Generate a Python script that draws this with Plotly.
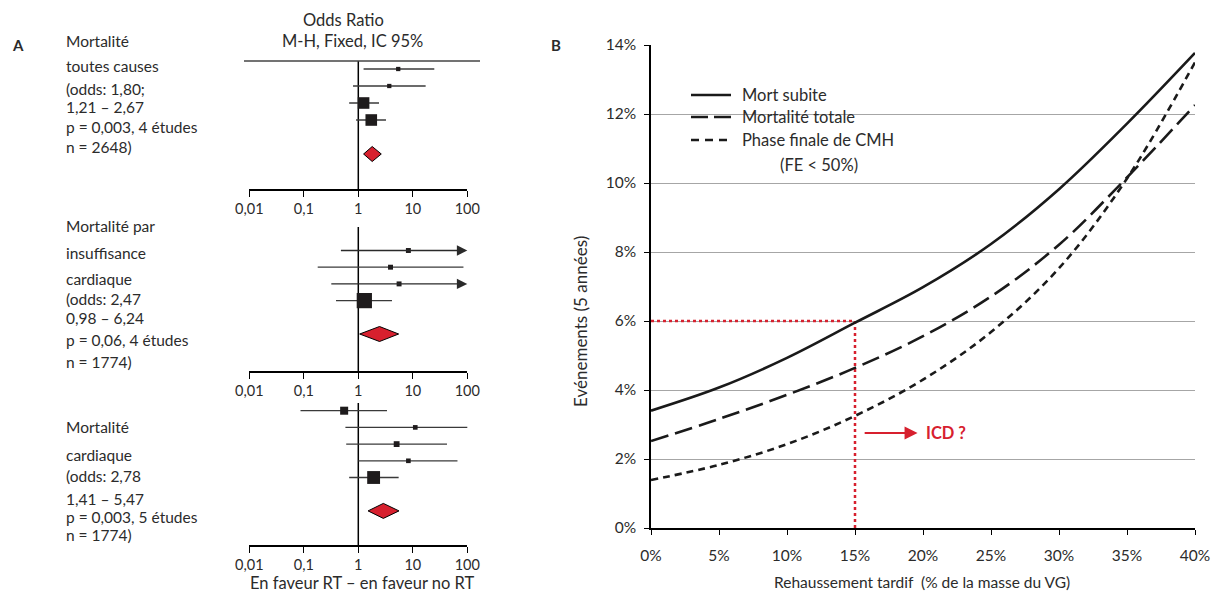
import numpy as np
import plotly.graph_objects as go

W, H = 1215, 594
FONT = "Lato, 'Open Sans', sans-serif"
TXT = "#2b2b2b"
RED = "#d7202e"
INK = "#1e1b1c"
ARROW_BEYOND = 150   # CI upper bounds above this are drawn as arrows to the axis end


def px_x(p):
    return p / W


def px_y(p):
    return 1 - p / H


# ------------------------- Panel A : forest plots -------------------------
or_ticks = [0.01, 0.1, 1, 10, 100]
or_tick_text = ["0,01", "0,1", "1", "10", "100"]

# panel 1 : all-cause mortality
p1_est = [5.4, 3.7, 1.25, 1.73]
p1_lo = [1.25, 0.80, 0.68, 0.91]
p1_hi = [24.8, 17.2, 2.40, 3.22]
p1_weight = [6, 6, 44, 44]
p1_pool = [1.80, 1.25, 2.64]
p1_text = ["Mortalité", "toutes causes", "(odds: 1,80;", "1,21 – 2,67",
           "p = 0,003, 4 études", "n = 2648)"]

# panel 2 : heart-failure mortality
p2_est = [8.3, 3.9, 5.6, 1.29]
p2_lo = [0.45, 0.18, 0.30, 0.39]
p2_hi = [250, 85, 250, 4.15]
p2_weight = [8, 8, 8, 76]
p2_pool = [2.45, 1.06, 5.5]
p2_text = ["Mortalité par", "insuffisance", "cardiaque", "(odds: 2,47",
           "0,98 – 6,24", "p = 0,06, 4 études", "n = 1774)"]

# panel 3 : cardiac mortality
p3_est = [0.55, 11.1, 5.05, 8.3, 1.91]
p3_lo = [0.087, 0.58, 0.60, 1.0, 0.68]
p3_hi = [3.36, 110, 42.4, 66, 5.5]
p3_weight = [21, 7, 11, 7, 54]
p3_pool = [2.88, 1.51, 5.58]
p3_text = ["Mortalité", "cardiaque", "(odds: 2,78", "1,41 – 5,47",
           "p = 0,003, 5 études", "n = 1774)"]

# ------------------------- Panel B : curves -------------------------
lge_pct = [0, 5, 10, 15, 20, 25, 30, 35, 40]
mort_subite = [3.40, 4.07, 4.93, 5.95, 6.98, 8.23, 9.82, 11.72, 13.77]
mort_totale = [2.52, 3.16, 3.86, 4.64, 5.56, 6.71, 8.21, 10.16, 12.26]
phase_finale = [1.39, 1.83, 2.43, 3.25, 4.30, 5.68, 7.53, 10.13, 13.5]
series_names = ["Mort subite", "Mortalité totale", "Phase finale de CMH"]
series_note = "(FE < 50%)"
x_ticks = [0, 5, 10, 15, 20, 25, 30, 35, 40]
y_ticks = [0, 2, 4, 6, 8, 10, 12, 14]
icd_lge = 15
icd_event = 6

fig = go.Figure()
annotations = []
shapes = []

panels = [
    dict(est=p1_est, lo=p1_lo, hi=p1_hi, w=p1_weight, pool=p1_pool, text=p1_text,
         text_y=[41.5, 66.5, 88.5, 107, 126.5, 146.5], row1=69, sp=17, top=61, bottom=189),
    dict(est=p2_est, lo=p2_lo, hi=p2_hi, w=p2_weight, pool=p2_pool, text=p2_text,
         text_y=[225.5, 252.5, 278.5, 298.5, 318, 340, 361.5], row1=250.5, sp=16.7, top=227, bottom=371),
    dict(est=p3_est, lo=p3_lo, hi=p3_hi, w=p3_weight, pool=p3_pool, text=p3_text,
         text_y=[427, 455, 475.5, 499, 516.5, 535], row1=410.7, sp=16.7, top=403, bottom=545),
]

for k, p in enumerate(panels, start=1):
    xa = "x" if k == 1 else f"x{k}"
    ya = "y" if k == 1 else f"y{k}"
    n = len(p["est"])
    rows = list(range(1, n + 1))
    dia = n + 2
    top_val = 1 + (p["top"] - p["row1"]) / p["sp"]
    bot_val = 1 + (p["bottom"] - p["row1"]) / p["sp"]

    # line of no effect
    fig.add_trace(go.Scatter(x=[1, 1], y=[top_val, bot_val], mode="lines",
                             line=dict(color="black", width=1.5), xaxis=xa, yaxis=ya,
                             showlegend=False, hoverinfo="skip"))
    # confidence intervals
    cx, cy = [], []
    for r, lo, hi in zip(rows, p["lo"], p["hi"]):
        if hi > ARROW_BEYOND:
            annotations.append(dict(x=2, y=r, ax=np.log10(lo), ay=r, xref=xa, yref=ya,
                                    axref=xa, ayref=ya, text="", showarrow=True,
                                    arrowhead=2, arrowsize=1.6, arrowwidth=1.3,
                                    arrowcolor="#2a2a2a", standoff=0))
        else:
            cx += [lo, hi, None]
            cy += [r, r, None]
    fig.add_trace(go.Scatter(x=cx, y=cy, mode="lines", line=dict(color="#3a3a3a", width=1.3),
                             xaxis=xa, yaxis=ya, showlegend=False, hoverinfo="skip"))
    # study squares
    fig.add_trace(go.Scatter(x=p["est"], y=rows, mode="markers",
                             marker=dict(symbol="square", color=INK, opacity=1,
                                         size=[1.75 * np.sqrt(w) for w in p["w"]],
                                         line=dict(width=0)),
                             cliponaxis=False, xaxis=xa, yaxis=ya, showlegend=False))
    # pooled diamond
    est, lo, hi = p["pool"]
    h = 7.5 / p["sp"]
    fig.add_trace(go.Scatter(x=[lo, est, hi, est, lo], y=[dia, dia - h, dia, dia + h, dia],
                             mode="lines", fill="toself", fillcolor=RED,
                             line=dict(color="black", width=1), xaxis=xa, yaxis=ya,
                             showlegend=False, hoverinfo="skip"))

    fig.update_layout(**{
        ("xaxis" if k == 1 else f"xaxis{k}"): dict(
            type="log", range=[-2, 2], domain=[px_x(249.3), px_x(467.3)], anchor=ya,
            tickvals=or_ticks, ticktext=or_tick_text, ticks="outside", ticklen=6,
            tickwidth=1.3, tickcolor="black", showline=True, linecolor="black", linewidth=1.5,
            showgrid=False, zeroline=False, automargin=False,
            tickfont=dict(size=14.5, color=TXT, family=FONT)),
        ("yaxis" if k == 1 else f"yaxis{k}"): dict(
            domain=[px_y(p["bottom"]), px_y(p["top"])], range=[bot_val, top_val],
            visible=False, anchor=xa, automargin=False),
    })

    for t, yy in zip(p["text"], p["text_y"]):
        annotations.append(dict(x=px_x(64), y=px_y(yy), xref="paper", yref="paper",
                                text=t, showarrow=False, xanchor="left", yanchor="middle",
                                font=dict(size=15.5, color=TXT, family=FONT)))

# top rule of the forest plot
shapes.append(dict(type="line", xref="paper", yref="paper", x0=px_x(244), x1=px_x(480),
                   y0=px_y(61), y1=px_y(61), line=dict(color="#444", width=1.5)))

hdr = [
    dict(x=px_x(343), y=px_y(20), text="Odds Ratio"),
    dict(x=px_x(352), y=px_y(41.5), text="M-H, Fixed, IC 95%"),
    dict(x=px_x(362), y=px_y(583), text="En faveur RT – en faveur no RT"),
]
for a in hdr:
    a.update(xref="paper", yref="paper", showarrow=False, xanchor="center", yanchor="middle",
             font=dict(size=16.5, color=TXT, family=FONT))
annotations += hdr

annotations += [
    dict(x=px_x(18), y=px_y(45), xref="paper", yref="paper", text="<b>A</b>", showarrow=False,
         xanchor="center", yanchor="middle", font=dict(size=15, color=TXT, family=FONT)),
    dict(x=px_x(556), y=px_y(45), xref="paper", yref="paper", text="<b>B</b>", showarrow=False,
         xanchor="center", yanchor="middle", font=dict(size=15, color=TXT, family=FONT)),
]

# ------------------------- Panel B traces -------------------------
fig.add_trace(go.Scatter(x=[0, icd_lge, icd_lge], y=[icd_event, icd_event, 0], mode="lines",
                         line=dict(color=RED, width=2.5, dash="dot"),
                         xaxis="x4", yaxis="y4", showlegend=False, hoverinfo="skip"))
dashes = ["solid", "18px,7px", "7px,5px"]
for name, ys, d in zip(series_names, [mort_subite, mort_totale, phase_finale], dashes):
    fig.add_trace(go.Scatter(x=lge_pct, y=ys, mode="lines", name=name,
                             line=dict(color="#1a1a1a", width=2.6, dash=d, shape="spline",
                                       smoothing=1.0),
                             xaxis="x4", yaxis="y4", showlegend=False))

fig.update_layout(
    xaxis4=dict(domain=[px_x(651), px_x(1195)], range=[0, 40], anchor="y4",
                tickvals=x_ticks, ticktext=[f"{v}%" for v in x_ticks],
                ticks="outside", ticklen=5, tickwidth=1.3, tickcolor="black",
                showline=True, linecolor="black", linewidth=1.5, showgrid=False,
                zeroline=False, ticklabelstandoff=8, automargin=False,
                tickfont=dict(size=15.5, color=TXT, family=FONT)),
    yaxis4=dict(domain=[px_y(528), px_y(45)], range=[0, 14], anchor="x4",
                tickvals=y_ticks, ticktext=[f"{v}%" for v in y_ticks],
                ticks="outside", ticklen=5, tickwidth=1.3, tickcolor="black",
                showline=True, linecolor="black", linewidth=1.5, showgrid=True,
                gridcolor="#a6a6a6", gridwidth=1, zeroline=False, ticklabelstandoff=5,
                automargin=False, tickfont=dict(size=15.5, color=TXT, family=FONT)),
)

# manual legend
leg_y = [95, 117, 140]
for name, d, yy in zip(series_names, ["solid", "17px,6px", "8px,6px"], leg_y):
    shapes.append(dict(type="line", xref="paper", yref="paper", x0=px_x(691), x1=px_x(731),
                       y0=px_y(yy), y1=px_y(yy), line=dict(color="#1a1a1a", width=2.6, dash=d)))
    annotations.append(dict(x=px_x(740), y=px_y(yy), xref="paper", yref="paper", text=name,
                            showarrow=False, xanchor="left", yanchor="middle",
                            font=dict(size=16.5, color=TXT, family=FONT)))
annotations.append(dict(x=px_x(778), y=px_y(165), xref="paper", yref="paper", text=series_note,
                        showarrow=False, xanchor="left", yanchor="middle",
                        font=dict(size=16.5, color=TXT, family=FONT)))

# ICD arrow + label
annotations += [
    dict(x=19.6, y=2.75, ax=15.6, ay=2.75, xref="x4", yref="y4", axref="x4", ayref="y4",
         text="", showarrow=True, arrowhead=2, arrowsize=1.3, arrowwidth=2,
         arrowcolor=RED, standoff=0),
    dict(x=20.1, y=2.75, xref="x4", yref="y4", text="<b>ICD ?</b>", showarrow=False,
         xanchor="left", yanchor="middle", font=dict(size=16.5, color=RED, family=FONT)),
    dict(x=px_x(922), y=px_y(582), xref="paper", yref="paper",
         text="Rehaussement tardif  (% de la masse du VG)", showarrow=False,
         xanchor="center", yanchor="middle", font=dict(size=15.5, color=TXT, family=FONT)),
    dict(x=px_x(580), y=px_y(322), xref="paper", yref="paper", text="Evénements (5 années)",
         textangle=-90, showarrow=False, xanchor="center", yanchor="middle",
         font=dict(size=17, color=TXT, family=FONT)),
]

fig.update_layout(
    template="none",
    width=W, height=H, autosize=False,
    margin=dict(l=0, r=0, t=0, b=0, pad=0),
    paper_bgcolor="white", plot_bgcolor="white",
    font=dict(family=FONT, color=TXT),
    showlegend=False,
    annotations=annotations, shapes=shapes,
)

fig.write_html("out.html", config={"displayModeBar": False},
               post_script="document.body.style.margin='0';document.body.style.overflow='hidden';")
